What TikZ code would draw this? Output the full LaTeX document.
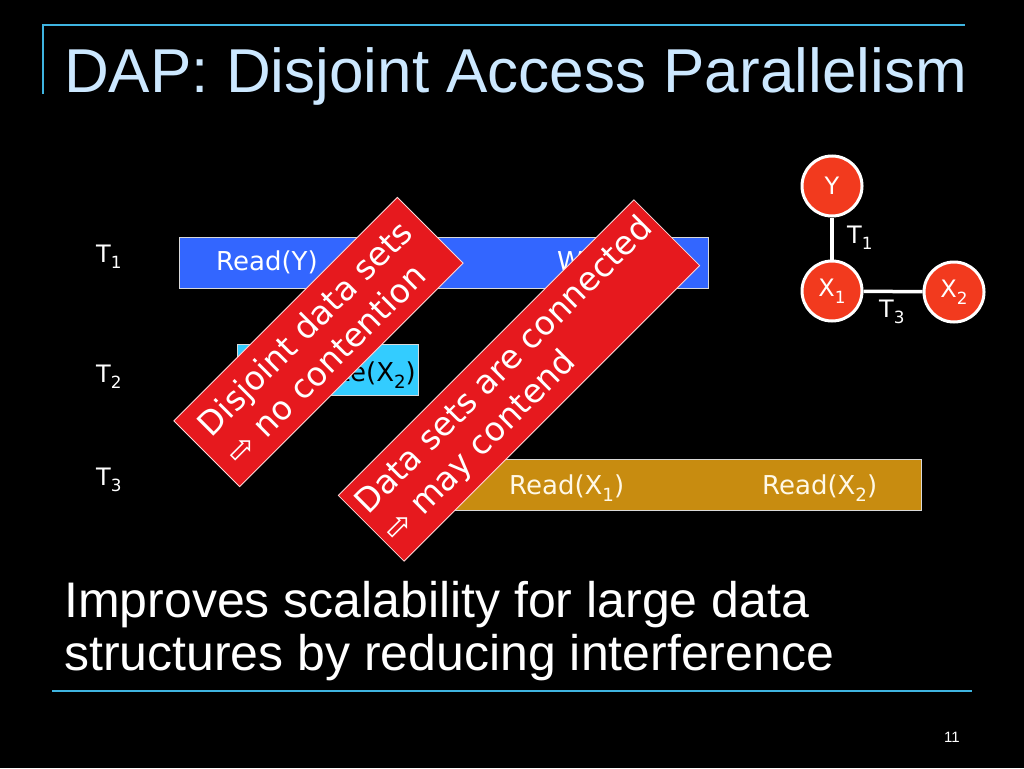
\documentclass[tikz,border=0pt]{standalone}
\usepackage{fontspec}
\setmainfont{DejaVu Sans}
\newfontfamily\libsans{Liberation Sans}
\newfontfamily\dejavu{DejaVu Sans}
\newcommand{\lowsub}[1]{\raisebox{-0.28em}{\scalebox{0.7}{#1}}}
\definecolor{barblue}{HTML}{3366FF}
\definecolor{barcyan}{HTML}{33CCFF}
\definecolor{bargold}{HTML}{C88C10}
\definecolor{bannerred}{HTML}{E6191E}
\definecolor{vertred}{HTML}{F23A1E}
\definecolor{titleblue}{HTML}{CCE8FF}
\definecolor{rulecyan}{HTML}{3FB4E0}
\definecolor{cream}{HTML}{FFF8E6}
\begin{document}
\begin{tikzpicture}[x=1pt,y=-1pt,
  bar/.style={draw=white!85!black, line width=0.8pt, inner sep=0pt, anchor=north west},
  bartext/.style={font=\fontsize{26}{30}\selectfont, text=white, inner sep=0pt, anchor=base west},
  tlabel/.style={font=\fontsize{24}{28}\selectfont, text=white, inner sep=0pt, anchor=base west},
  banner/.style={fill=bannerred, draw=white!85!red, line width=0.8pt, rotate=45, inner sep=0pt,
     text=white, align=left, font=\fontsize{33}{40}\selectfont},
  vert/.style={circle, fill=vertred, draw=white, line width=3pt, minimum size=60pt, inner sep=0pt,
     text=white, font=\fontsize{24}{28}\selectfont},
  edge/.style={draw=white, line width=3.5pt},
  rule/.style={draw=rulecyan, line width=2pt}]
\useasboundingbox (0,0) rectangle (1024,768);
\fill[black] (0,0) rectangle (1024,768);

% header rules
\coordinate (hl) at (43,25);
\coordinate (hr) at (965,25);
\coordinate (hv) at (43,94);
\draw[rule] (hv) -- (hl) -- (hr);

% title
\node[anchor=base west, inner sep=0pt, text=titleblue, font=\libsans\fontsize{62}{70}\selectfont] (title) at (64,92) {DAP: Disjoint Access Parallelism};

% transaction labels
\node[tlabel] (l1) at (96,262) {T\lowsub{1}};
\node[tlabel] (l2) at (96,382) {T\lowsub{2}};
\node[tlabel] (l3) at (96,485) {T\lowsub{3}};

% bars
\node[bar, fill=barblue, minimum width=529pt, minimum height=51pt] (t1bar) at (179,237) {};
\node[bartext] (ready) at (216,270) {Read(Y)};
\node[bartext] (writex1) at (557,270) {Write(X\lowsub{1})};

\node[bar, fill=barcyan, minimum width=181pt, minimum height=51pt] (t2bar) at (237,344) {};
\node[bartext, text=black, anchor=base east] (writex2) at (416,381) {Write(X\lowsub{2})};

\node[bar, fill=bargold, minimum width=521pt, minimum height=51pt] (t3bar) at (400,459) {};
\node[bartext, text=cream] (readx1) at (509,494) {Read(X\lowsub{1})};
\node[bartext, text=cream] (readx2) at (762,494) {Read(X\lowsub{2})};

% banners
\node[banner, minimum width=316pt, minimum height=93pt] (b1) at (318.5,342)
  {Disjoint data sets\\{\dejavu ⇨} no contention};
\node[banner, minimum width=418pt, minimum height=93pt] (b2) at (519,380.5)
  {Data sets are connected\\{\dejavu ⇨} may contend};

% data graph
\node[vert] (Y) at (832,186) {Y};
\node[vert] (X1) at (832,291) {X\lowsub{1}};
\node[vert] (X2) at (954,292) {X\lowsub{2}};
\draw[edge] (Y) -- (X1);
\draw[edge] (X1) -- (X2);
\node[tlabel] (e1) at (847,243) {T\lowsub{1}};
\node[tlabel] (e3) at (879,317) {T\lowsub{3}};

% bottom text
\node[anchor=base west, inner sep=0pt, text=white, font=\libsans\fontsize{50}{54}\selectfont] (bt1) at (64,617) {Improves scalability for large data};
\node[anchor=base west, inner sep=0pt, text=white, font=\libsans\fontsize{50}{54}\selectfont] (bt2) at (64,670) {structures by reducing interference};

% footer rule and page number
\coordinate (fl) at (52,691);
\coordinate (fr) at (972,691);
\draw[rule] (fl) -- (fr);
\node[anchor=base east, inner sep=0pt, text=white, font=\libsans\fontsize{15}{18}\selectfont] (pg) at (960,742) {11};
\end{tikzpicture}
\end{document}
